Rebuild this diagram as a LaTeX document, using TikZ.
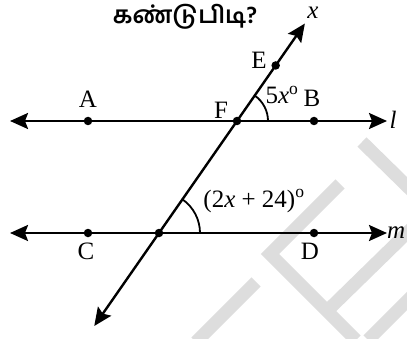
\documentclass[tikz,border=0pt]{standalone}
\usepackage{fontspec}
\setmainfont{Liberation Serif}
\newfontfamily\tamilfont[Script=Tamil]{Hind Madurai}
\usepackage{xcolor}
\usetikzlibrary{arrows.meta,calc}
\definecolor{wmgray}{RGB}{221,221,221}

\begin{document}
\begin{tikzpicture}[x=1pt,y=1pt,
  line/.style={line width=2.4pt,{Stealth[length=18pt,width=16pt,inset=3pt]}-{Stealth[length=18pt,width=16pt,inset=3pt]}},
  dot/.style={circle,fill,inner sep=0pt,minimum size=8.5pt},
  arcline/.style={line width=1.8pt},
  lbl/.style={font=\fontsize{25}{30}\selectfont,inner sep=0pt},
  wm/.style={line width=13pt,draw=wmgray,line join=miter}]
\useasboundingbox (0,0) rectangle (407,338);
\clip (0,0) rectangle (407,338);

% watermark
\draw[wm] (362,196) -- (412,147);
\draw[wm] (340,154) -- (270,84) -- (356,-2);
\draw[wm] (412,110) -- (326,26);
\draw[wm] (256,56) -- (196,-4);
\draw[wm] (412,42) -- (368,-2);

% title
\node[font=\tamilfont\bfseries\fontsize{24}{28}\selectfont,inner sep=0pt] (title) at (185,321) {கண்டுபிடி?};

% points on l and m
\coordinate (F) at (237,217);
\coordinate (G) at (159,105);
\coordinate (lL) at (10,217);
\coordinate (lR) at (387,217);
\coordinate (mL) at (10,105);
\coordinate (mR) at (387,105);
\coordinate (tTop) at ($(G)!1.87!(F)$);
\coordinate (tBot) at ($(G)!-0.83!(F)$);

% lines
\draw[line] (lL) -- (lR);
\draw[line] (mL) -- (mR);
\draw[line] (tBot) -- (tTop);

% angles
\draw[arcline] ($(F)+(31,0)$) arc[start angle=0,end angle=55,radius=31];
\draw[arcline] ($(G)+(41,0)$) arc[start angle=0,end angle=55,radius=41];

% dots
\node[dot] (A) at (88,217) {};
\node[dot] (B) at (314,217) {};
\node[dot] (C) at (88,105) {};
\node[dot] (D) at (314,105) {};
\node[dot] (E) at ($(F)!0.57!(tTop)$) {};
\node[dot] (Fd) at (F) {};
\node[dot] (Gd) at (G) {};

% labels
\node[lbl] at (88,239) {A};
\node[lbl] at (221,228) {F};
\node[lbl] at (312,240) {B};
\node[lbl] at (259,278) {E};
\node[lbl] at (86,87) {C};
\node[lbl] at (310,87) {D};
\node[lbl] at (313,325) {\textit{x}};
\node[lbl] at (393,218) {\textit{l}};
\node[lbl,anchor=west] at (387,105) {\textit{m}};
\node[lbl] at (282,243) {5\textit{x}\textsuperscript{o}};
\node[lbl] at (254,137) {(2\textit{x} + 24)\textsuperscript{o}};
\end{tikzpicture}
\end{document}
